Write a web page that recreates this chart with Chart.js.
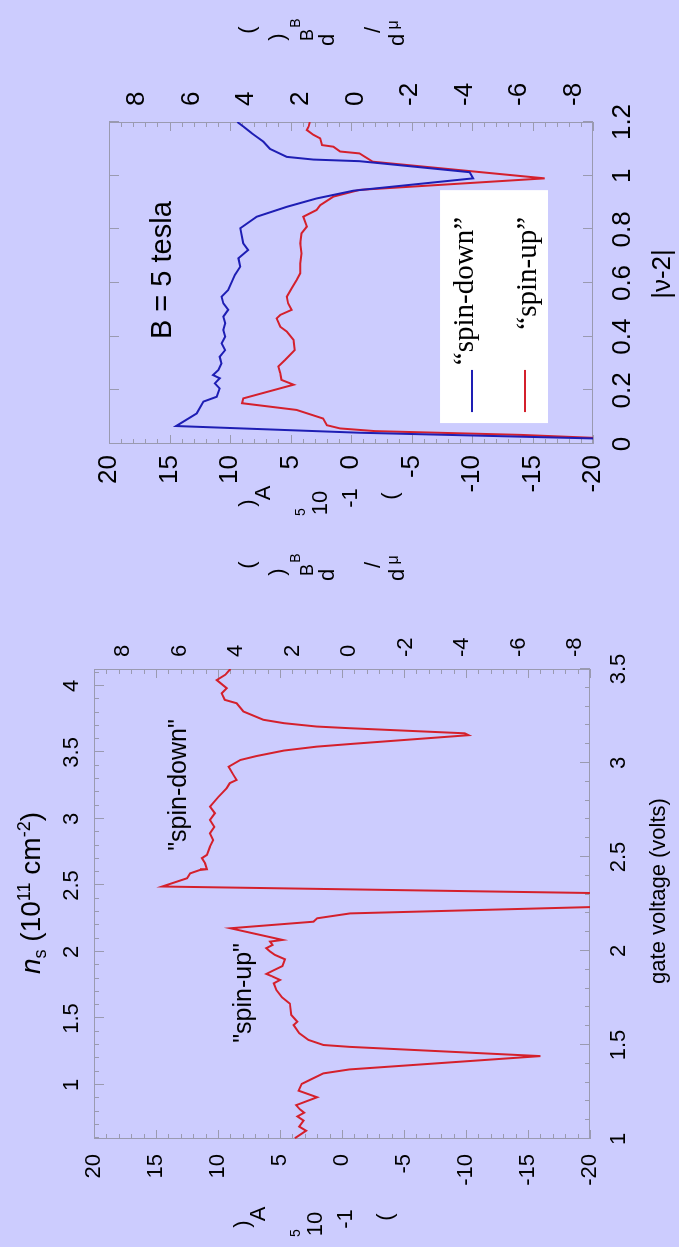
<!DOCTYPE html>
<html>
<head>
<meta charset="utf-8">
<title>dmu/dn spin-split</title>
<script src="https://cdn.jsdelivr.net/npm/chart.js@4.4.1/dist/chart.umd.min.js"></script>
<style>
html, body { margin: 0; padding: 0; width: 679px; height: 1247px; overflow: hidden; background: #ccccfe; }
#sheet { position: absolute; left: 0; top: 0; width: 1247px; height: 679px;
         transform-origin: 0 0; transform: translate(0, 1247px) rotate(-90deg);
         font-family: "Liberation Sans", Arial, sans-serif; color: #000; }
#sheet canvas { position: absolute; left: 0; top: 0; }
.t { position: absolute; white-space: nowrap; transform: translate(-50%, -50%); line-height: 1; }
.g { position: absolute; transform: translate(-50%, -50%); line-height: 1; font-size: 22px; }
</style>
</head>
<body>
<div id="sheet">
  <canvas id="gateChart" width="1247" height="679"></canvas>
  <canvas id="nuChart" width="1247" height="679"></canvas>
  <div class="t" style="left:354px; top:32px; font-size:28px;"><i>n</i><sub style="font-size:18px">s</sub> (10<sup style="font-size:18px">11</sup> cm<sup style="font-size:18px">-2</sup>)</div>
  <div class="t" style="left:356px; top:658px; font-size:22px;">gate voltage (volts)</div>
  <div class="t" style="left:973px; top:661px; font-size:26px;">|ν-2|</div>
</div>
<script>
// left panel: trace vs gate voltage (values in left-axis units)
const gateVoltage = [1.004, 1.044, 1.066, 1.098, 1.12, 1.14, 1.158, 1.18, 1.222, 1.257, 1.293, 1.314,
  1.349, 1.37, 1.441, 1.49, 1.5, 1.527, 1.563, 1.606, 1.624, 1.66, 1.72, 1.754, 1.793, 1.828, 1.846,
  1.867, 1.878, 1.896, 1.92, 1.956, 1.979, 1.997, 2.015, 2.032, 2.05, 2.059, 2.121, 2.156, 2.174, 2.2,
  2.235, 2.27, 2.308, 2.343, 2.387, 2.413, 2.431, 2.435, 2.467, 2.494, 2.511, 2.555, 2.59, 2.626, 2.66,
  2.697, 2.733, 2.768, 2.821, 2.866, 2.893, 2.91, 2.936, 2.98, 3.016, 3.037, 3.066, 3.087, 3.101,
  3.148, 3.158, 3.185, 3.194, 3.212, 3.23, 3.274, 3.318, 3.336, 3.371, 3.398, 3.441, 3.47, 3.5];
const gateSignal = [3.8, 2.9, 3.45, 3.1, 3.6, 3.05, 3.4, 3.7, 2.0, 3.5, 3.25, 2.6,
  1.5, -0.6, -16.0, -0.65, 1.5, 2.7, 3.45, 3.9, 3.6, 4.1, 4.2, 4.85, 5.3, 5.5, 5.0,
  5.7, 6.1, 5.55, 4.8, 4.6, 5.4, 5.8, 6.1, 5.6, 5.8, 4.8, 9.0, 2.3, 2.0, -0.65,
  -20.8, -26, -20.5, 14.5, 12.5, 12.25, 11.45, 10.9, 11.05, 11.3, 10.9, 10.65, 10.4, 10.65, 10.3,
  10.65, 10.25, 10.65, 9.95, 9.3, 9.05, 8.5, 8.75, 9.15, 8.2, 6.9, 4.7, 2.05, -0.65,
  -10.2, -9.9, -0.65, 2.05, 4.7, 6.35, 7.95, 8.5, 9.45, 9.7, 9.3, 10.1, 9.4, 9.0];

// right panel: |nu-2| sweeps
const nuDown = [0.012, 0.042, 0.067, 0.114, 0.158, 0.176, 0.207, 0.226, 0.245, 0.257, 0.276, 0.3,
  0.325, 0.35, 0.375, 0.4, 0.425, 0.45, 0.475, 0.5, 0.524, 0.549, 0.574, 0.605, 0.63, 0.661, 0.692,
  0.723, 0.748, 0.804, 0.847, 0.884, 0.915, 0.944, 0.99, 1.013, 1.054, 1.06, 1.07, 1.1, 1.127, 1.158,
  1.183, 1.2];
const sigDown = [-28, -0.7, 14.45, 12.75, 12.2, 11.1, 10.85, 11.25, 10.85, 11.4, 10.95, 10.7,
  10.85, 10.4, 10.7, 10.4, 10.55, 10.4, 10.55, 10.15, 10.55, 10.7, 10.15, 9.85, 9.6, 9.15, 9.3,
  8.5, 8.9, 9.15, 7.8, 5.3, 2.85, -0.2, -10.1, -9.8, -0.7, 3.1, 5.3, 6.7, 7.25, 8.2,
  8.9, 9.4];
const nuUp = [0.012, 0.034, 0.048, 0.058, 0.07, 0.095, 0.127, 0.152, 0.17, 0.221, 0.239, 0.264,
  0.289, 0.313, 0.35, 0.388, 0.419, 0.437, 0.468, 0.481, 0.5, 0.524, 0.549, 0.58, 0.611, 0.636,
  0.673, 0.71, 0.748, 0.785, 0.81, 0.847, 0.872, 0.89, 0.922, 0.947, 0.99, 1.052, 1.083, 1.09,
  1.108, 1.114, 1.139, 1.152, 1.17, 1.183, 1.2];
const sigUp = [-26, -14, -2, 0.9, 2.0, 2.3, 4.5, 9.0, 8.9, 4.75, 5.75, 5.85,
  6.0, 5.45, 4.65, 4.75, 5.3, 5.85, 6.15, 5.85, 4.9, 5.2, 5.3, 4.9, 4.5, 4.2,
  4.2, 4.1, 4.2, 4.1, 3.65, 3.95, 2.85, 2.55, 1.45, -0.7, -16.0, -1.8, -0.7, 0.9,
  1.45, 2.4, 2.55, 3.1, 3.65, 3.5, 3.4];

const gateTicks = [1, 1.5, 2, 2.5, 3, 3.5];
const densityTicks = [1, 1.5, 2, 2.5, 3, 3.5, 4];
const leftTicks = [20, 15, 10, 5, 0, -5, -10, -15, -20];
const rightTicks = [8, 6, 4, 2, 0, -2, -4, -6, -8];
const nuTicks = [0, 0.2, 0.4, 0.6, 0.8, 1, 1.2];

const FONT = '"Liberation Sans", Arial, sans-serif';
const RED = '#d4202c';
const BLUE = '#1e1eb4';
const FRAME = '#9a9ab0';

function pairs(xs, ys) { return xs.map((x, i) => ({ x: x, y: ys[i] })); }

function axis(pos, min, max, ticks, size, pad, boxSize) {
  return {
    type: 'linear', position: pos, min: min, max: max, bounds: 'data',
    afterBuildTicks: s => { s.ticks = ticks.map(v => ({ value: v })); },
    afterFit: s => { if (s.isHorizontal()) s.height = boxSize; else s.width = boxSize; },
    grid: { display: false, drawTicks: false },
    border: { display: false },
    ticks: { font: { family: FONT, size: size }, color: '#000', padding: pad,
             autoSkip: false, maxRotation: 0, callback: v => String(+v.toFixed(2)) }
  };
}

// box round the plot + inward tick marks
const frameTicks = {
  id: 'frameTicks',
  beforeDatasetsDraw(chart, args, opts) {
    const { ctx, chartArea: a, scales } = chart;
    ctx.save();
    ctx.strokeStyle = FRAME;
    ctx.lineWidth = 1;
    ctx.strokeRect(a.left + 0.5, a.top + 0.5, a.width - 1, a.height - 1);
    ctx.beginPath();
    opts.marks.forEach(m => {
      const s = scales[m.scale];
      const n = Math.round((m.to - m.from) / m.step);
      for (let i = 0; i <= n; i++) {
        const v = m.from + i * m.step;
        const r = v / m.major;
        const len = Math.abs(r - Math.round(r)) < 1e-6 ? m.long : m.short;
        const p = Math.round(s.getPixelForValue(v)) + 0.5;
        m.edges.forEach(e => {
          if (e === 'top') { ctx.moveTo(p, a.top); ctx.lineTo(p, a.top + len); }
          if (e === 'bottom') { ctx.moveTo(p, a.bottom); ctx.lineTo(p, a.bottom - len); }
          if (e === 'left') { ctx.moveTo(a.left, p); ctx.lineTo(a.left + len, p); }
          if (e === 'right') { ctx.moveTo(a.right, p); ctx.lineTo(a.right - len, p); }
        });
      }
    });
    ctx.stroke();
    ctx.restore();
  }
};

// text notes and the hand-drawn key, placed in data coordinates
const notes = {
  id: 'notes',
  afterDatasetsDraw(chart, args, opts) {
    const { ctx, scales } = chart;
    const X = v => scales.x.getPixelForValue(v);
    const Y = v => scales.y.getPixelForValue(v);
    ctx.save();
    (opts.boxes || []).forEach(b => {
      ctx.fillStyle = '#fff';
      ctx.fillRect(X(b.x0), Y(b.y0), X(b.x1) - X(b.x0), Y(b.y1) - Y(b.y0));
    });
    (opts.keys || []).forEach(k => {
      ctx.strokeStyle = k.color;
      ctx.lineWidth = 2;
      ctx.beginPath();
      ctx.moveTo(X(k.x0), Y(k.y));
      ctx.lineTo(X(k.x1), Y(k.y));
      ctx.stroke();
    });
    (opts.texts || []).forEach(t => {
      ctx.font = t.font;
      ctx.fillStyle = '#000';
      ctx.textAlign = t.align || 'center';
      ctx.textBaseline = 'middle';
      ctx.fillText(t.text, X(t.x), Y(t.y));
    });
    ctx.restore();
  }
};

new Chart(document.getElementById('gateChart'), {
  type: 'line',
  data: {
    datasets: [{
      data: pairs(gateVoltage, gateSignal),
      borderColor: RED, borderWidth: 2, pointRadius: 0, tension: 0,
      xAxisID: 'x', yAxisID: 'y'
    }]
  },
  options: {
    responsive: false, animation: false, events: [],
    layout: { padding: 0 },
    scales: {
      x: axis('bottom', 1, 3.5, gateTicks, 22, 16, 89),
      ns: axis('top', 0.594, 4.127, densityTicks, 22, 9, 94),
      y: axis('left', -20, 20, leftTicks, 22, 15, 108),
      y2: axis('right', -8.53, 9.03, rightTicks, 22, 12, 669)
    },
    plugins: {
      legend: { display: false }, tooltip: { enabled: false },
      frameTicks: { marks: [
        { scale: 'x', from: 1, to: 3.5, step: 0.1, major: 0.5, short: 5, long: 10, edges: ['bottom'] },
        { scale: 'ns', from: 0.6, to: 4.1, step: 0.1, major: 0.5, short: 5, long: 10, edges: ['top'] },
        { scale: 'y', from: -20, to: 20, step: 1, major: 5, short: 5, long: 9, edges: ['left', 'right'] }
      ] },
      notes: { texts: [
        { text: '"spin-down"', x: 2.883, y: 13.15, font: '25px ' + FONT },
        { text: '"spin-up"', x: 1.777, y: 7.9, font: '25px ' + FONT }
      ] }
    }
  },
  plugins: [frameTicks, notes]
});

new Chart(document.getElementById('nuChart'), {
  type: 'line',
  data: {
    datasets: [
      { data: pairs(nuDown, sigDown), borderColor: BLUE, borderWidth: 2, pointRadius: 0, tension: 0 },
      { data: pairs(nuUp, sigUp), borderColor: RED, borderWidth: 2, pointRadius: 0, tension: 0 }
    ]
  },
  options: {
    responsive: false, animation: false, events: [],
    layout: { padding: { top: 109 } },
    scales: {
      x: axis('bottom', 0, 1.2, nuTicks, 26, 14, 86),
      y: axis('left', -20, 20, leftTicks, 26, 11, 803),
      y2: axis('right', -8.7, 9.03, rightTicks, 26, 16, 122)
    },
    plugins: {
      legend: { display: false }, tooltip: { enabled: false },
      frameTicks: { marks: [
        { scale: 'x', from: 0, to: 1.2, step: 0.2, major: 0.2, short: 10, long: 10, edges: ['top', 'bottom'] },
        { scale: 'y', from: -20, to: 20, step: 1, major: 5, short: 5, long: 9, edges: ['left', 'right'] }
      ] },
      notes: {
        boxes: [{ x0: 0.078, y0: -7.36, x1: 0.946, y1: -16.28 }],
        keys: [
          { x0: 0.119, x1: 0.276, y: -10.0, color: BLUE },
          { x0: 0.119, x1: 0.276, y: -14.38, color: RED }
        ],
        texts: [
          { text: 'B = 5 tesla', x: 0.648, y: 15.54, font: '29px ' + FONT },
          { text: '\u201cspin-down\u201d', x: 0.846, y: -9.42, align: 'right', font: '29px "Liberation Serif", serif' },
          { text: '\u201cspin-up\u201d', x: 0.846, y: -14.63, align: 'right', font: '29px "Liberation Serif", serif' }
        ]
      }
    }
  },
  plugins: [frameTicks, notes]
});

// stacked axis-unit captions beside the value scales
const sheet = document.getElementById('sheet');
function stack(u, v, glyphs) {
  glyphs.forEach(([txt, du, dv, size]) => {
    const el = document.createElement('span');
    el.className = 'g';
    el.textContent = txt;
    el.style.left = (u + du) + 'px';
    el.style.top = (v + dv) + 'px';
    if (size) el.style.fontSize = size + 'px';
    sheet.appendChild(el);
  });
}
const unitGlyphs = [[')', 0, 0], ['A', 10, 16], ['5', -9, 53, 14], ['10', 0, 73], ['-1', 5, 103], ['(', 7, 143]];
const slopeGlyphs = [['(', 0, 0], [')', -7, 30], ['B', 7, 48, 14], ['B', -5, 60, 18], ['d', -10, 80],
  ['/', 0, 126], ['μ', 5, 146, 16], ['d', -10, 150]];
stack(23, 242, unitGlyphs);
stack(744, 247, unitGlyphs);
stack(682, 247, slopeGlyphs);
stack(1217, 247, slopeGlyphs);
</script>
</body>
</html>
